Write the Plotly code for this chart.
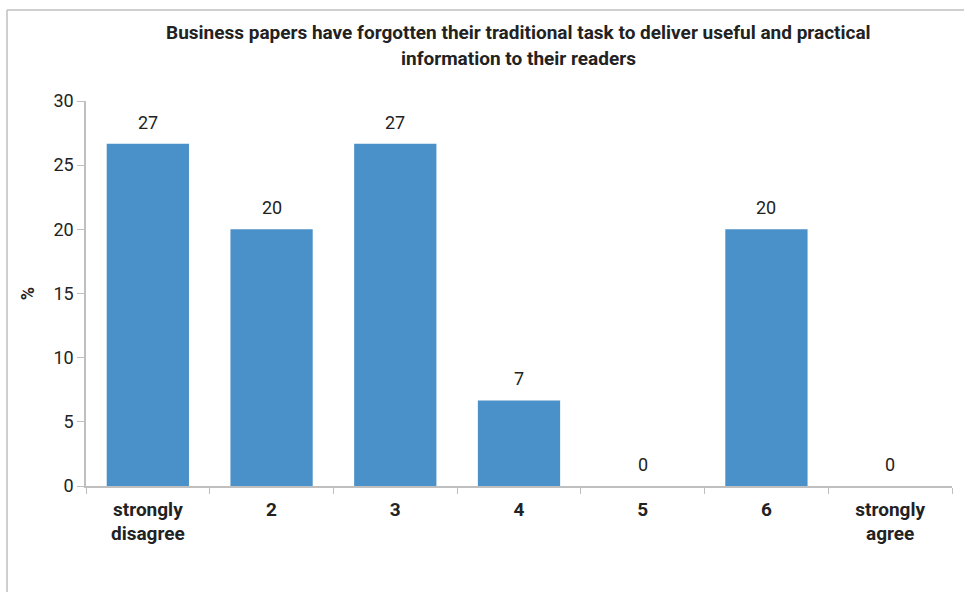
import plotly.graph_objects as go

# Survey response shares (%)
categories = ["strongly<br>disagree", "2", "3", "4", "5", "6", "strongly<br>agree"]
shares = [26.67, 20.0, 26.67, 6.67, 0.0, 20.0, 0.0]
y_ticks = [0, 5, 10, 15, 20, 25, 30]

title_lines = [
    "Business papers have forgotten their traditional task to deliver useful and practical",
    "information to their readers",
]

W, H = 964, 592
M_L, M_R, M_T, M_B = 86, 12, 101, 106
FONT = "Roboto, Liberation Sans, sans-serif"
INK = "#222222"
AXIS_GREY = "#bfbfbf"
BAR_BLUE = "#4b91c9"

fig = go.Figure(
    go.Bar(
        x=categories,
        y=shares,
        marker=dict(color=BAR_BLUE, line=dict(width=0)),
        hoverinfo="x+y",
    )
)

# Value labels above each bar, placed on the data scale (category index on x)
for i, val in enumerate(shares):
    fig.add_annotation(
        x=i, y=val, xref="x", yref="y",
        text=f"{val:.0f}", showarrow=False,
        yanchor="bottom", yshift=9,
        font=dict(family=FONT, size=18, color=INK),
    )

# Helpers: pixel position -> plot-relative paper coordinates
pw = W - M_L - M_R
ph = H - M_T - M_B
def px_x(p):
    return (p - M_L) / pw
def px_y(p):
    return (H - M_B - p) / ph

# Two-line bold heading
for line, ypix in zip(title_lines, [32, 58]):
    fig.add_annotation(
        x=px_x(518), y=px_y(ypix), xref="paper", yref="paper",
        text=f"<b>{line}</b>", showarrow=False,
        xanchor="center", yanchor="middle",
        font=dict(family=FONT, size=19, color=INK),
    )

# Outer frame lines (left and top)
frame = dict(color=AXIS_GREY, width=1.5)
fig.add_shape(type="line", xref="paper", yref="paper",
              x0=px_x(7), x1=px_x(7), y0=px_y(H + 5), y1=px_y(10), line=frame)
fig.add_shape(type="line", xref="paper", yref="paper",
              x0=px_x(7), x1=px_x(W + 5), y0=px_y(10), y1=px_y(10), line=frame)

fig.update_layout(
    width=W, height=H,
    margin=dict(l=M_L, r=M_R, t=M_T, b=M_B),
    paper_bgcolor="white", plot_bgcolor="white",
    bargap=0.335,
    showlegend=False,
    font=dict(family=FONT, size=18, color=INK),
    xaxis=dict(
        showline=True, linecolor=AXIS_GREY, linewidth=1.5,
        ticks="outside", tickson="boundaries", ticklen=6, tickcolor=AXIS_GREY,
        tickfont=dict(family=FONT, size=19, color=INK, weight="bold"),
        ticklabelstandoff=5,
        showgrid=False,
    ),
    yaxis=dict(
        range=[0, 30], tickvals=y_ticks,
        showline=True, linecolor=AXIS_GREY, linewidth=1.5,
        ticks="outside", ticklen=7, tickcolor=AXIS_GREY,
        tickfont=dict(family=FONT, size=18, color=INK),
        showgrid=False, zeroline=False,
        title=dict(text="<b>%</b>", standoff=14, font=dict(family=FONT, size=18, color=INK)),
    ),
)

fig.write_html("out.html")
